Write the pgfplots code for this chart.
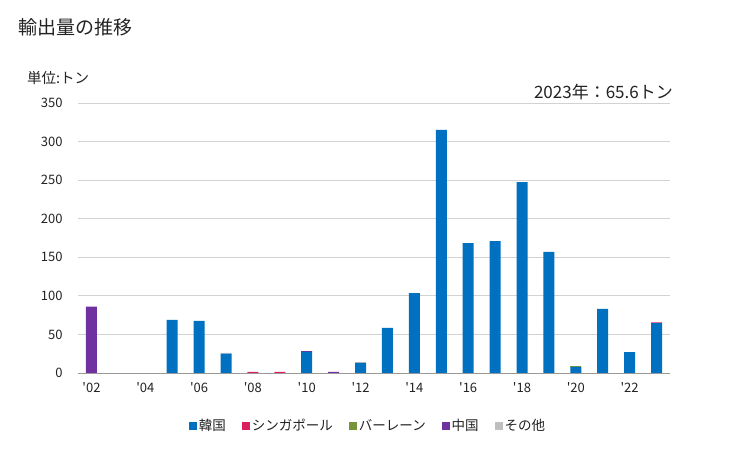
\documentclass[border=0pt]{standalone}
\usepackage{pgfplots}
\pgfplotsset{compat=1.18}
\usepackage{pgfplotstable}
\usepackage{fontspec}
\setmainfont{Noto Sans CJK JP}
\definecolor{korea}{HTML}{0070C0}
\definecolor{sing}{HTML}{DC1F5E}
\definecolor{bahr}{HTML}{77933C}
\definecolor{china}{HTML}{7030A0}
\definecolor{other}{HTML}{BFBFBF}
\definecolor{txt}{HTML}{222222}
\pgfplotstableread{
year K S B C O
2002 0 0 0 86 0
2003 0 0 0 0 0
2004 0 0 0 0 0
2005 69 0 0 0 0
2006 67.5 0 0 0 0
2007 25 0 0 0 1
2008 0 1.5 0 0 0
2009 0 1.5 0 0 0
2010 27.5 0 0 1 0
2011 0 0 0 1.5 0
2012 13 0 0 0 1.2
2013 58.5 0 0 0 0
2014 103.5 0 0 0 0
2015 315 0 0 0 0
2016 168.5 0 0 0 0
2017 171 0 0 0 0
2018 247.5 0 0 0 0
2019 157 0 0 0 0
2020 8 0 1.2 0 0
2021 83 0 0 0 0
2022 27 0 0 0 0
2023 64.6 1.0 0 0 0
}\datatable
\begin{document}
\begin{tikzpicture}
\path[use as bounding box] (0pt,0pt) rectangle (729pt,450pt);
\node[anchor=west,text=txt,font=\fontsize{19}{22}\selectfont,inner sep=0] at (18pt,423pt) {輸出量の推移};
\node[anchor=west,text=txt,font=\fontsize{14.5}{17}\selectfont,inner sep=0] at (27pt,372pt) {単位:トン};
\node[anchor=east,text=txt,font=\fontsize{17}{20}\selectfont,inner sep=0] at (673pt,358pt) {2023年：65.6トン};
\begin{axis}[
  at={(78pt,77pt)}, anchor=south west,
  width=592pt, height=270pt, scale only axis,
  ybar stacked, bar width=11pt,
  xmin=2001.5, xmax=2023.5, ymin=0, ymax=350,
  ytick={0,50,...,350},
  xtick={2002,2004,...,2022},
  xticklabels={\textquotesingle02,\textquotesingle04,\textquotesingle06,\textquotesingle08,\textquotesingle10,\textquotesingle12,\textquotesingle14,\textquotesingle16,\textquotesingle18,\textquotesingle20,\textquotesingle22},
  /pgf/number format/assume math mode=true,
  ymajorgrids, grid style={draw=gray!35, line width=0.8pt},
  axis x line*=bottom, axis y line*=left,
  y axis line style={draw=none},
  x axis line style={draw=gray!80, line width=0.8pt, -},
  major tick length=0pt,
  tick label style={font=\fontsize{13}{15}\selectfont, text=txt},
  yticklabel style={xshift=-12pt},
  xticklabel style={yshift=-6pt},
  legend columns=5,
  legend style={draw=none, at={(0.49,-0.196)}, anchor=center, font=\fontsize{13.5}{15}\selectfont, text=txt,
    /tikz/every even column/.append style={column sep=14pt}},
  legend image code/.code={\fill[#1] (0pt,-4pt) rectangle (8pt,4pt);},
]
\addplot+[fill=korea, draw=none] table[x=year,y=K]{\datatable};
\addplot+[fill=sing, draw=none] table[x=year,y=S]{\datatable};
\addplot+[fill=bahr, draw=none] table[x=year,y=B]{\datatable};
\addplot+[fill=china, draw=none] table[x=year,y=C]{\datatable};
\addplot+[fill=other, draw=none] table[x=year,y=O]{\datatable};
\legend{韓国,シンガポール,バーレーン,中国,その他}
\end{axis}
\end{tikzpicture}
\end{document}
